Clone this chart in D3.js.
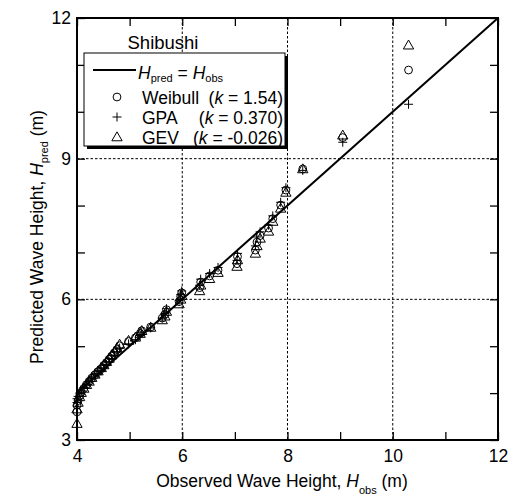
<!DOCTYPE html>
<html>
<head>
<meta charset="utf-8">
<script src="https://cdn.jsdelivr.net/npm/d3@7"></script>
<style>
  html, body { margin: 0; padding: 0; background: #fff; }
  svg { display: block; font-family: "Liberation Sans", Arial, Helvetica, sans-serif; }
</style>
</head>
<body>
<svg id="chart" width="516" height="499"></svg>
<script>
// Observed wave heights (m), sorted ascending; shared by all three fits
const observed = [4.00, 4.00, 4.02, 4.05, 4.08, 4.13, 4.18, 4.23, 4.28, 4.34,
  4.40, 4.46, 4.51, 4.56, 4.61, 4.66, 4.71, 4.76, 4.81, 4.98,
  5.11, 5.20, 5.23, 5.40, 5.62, 5.67, 5.70, 5.94, 5.97, 5.99,
  6.33, 6.35, 6.52, 6.68, 7.04, 7.05, 7.39, 7.42, 7.48, 7.64,
  7.72, 7.87, 7.97, 8.29, 9.05, 10.30];

// Predicted wave heights (m) from each fitted distribution
const predWeibull = [3.60, 3.74, 3.84, 3.94, 4.02, 4.10, 4.18, 4.25, 4.32, 4.39,
  4.46, 4.52, 4.59, 4.65, 4.72, 4.79, 4.86, 4.93, 5.01, 5.10,
  5.18, 5.27, 5.33, 5.41, 5.60, 5.68, 5.78, 5.95, 6.06, 6.14,
  6.25, 6.37, 6.50, 6.62, 6.76, 6.91, 7.05, 7.22, 7.36, 7.52,
  7.72, 8.01, 8.33, 8.78, 9.45, 10.89];
const predGPA = [3.80, 3.88, 3.93, 4.00, 4.06, 4.12, 4.19, 4.24, 4.30, 4.36,
  4.42, 4.48, 4.54, 4.61, 4.67, 4.74, 4.81, 4.88, 4.96, 5.05,
  5.14, 5.23, 5.30, 5.39, 5.60, 5.70, 5.80, 5.98, 6.10, 6.18,
  6.30, 6.43, 6.55, 6.68, 6.83, 6.98, 7.14, 7.33, 7.44, 7.58,
  7.78, 8.07, 8.38, 8.75, 9.35, 10.16];
const predGEV = [3.35, 3.66, 3.80, 3.92, 4.01, 4.10, 4.18, 4.25, 4.33, 4.40,
  4.47, 4.54, 4.60, 4.67, 4.74, 4.81, 4.88, 4.96, 5.04, 5.12,
  5.19, 5.27, 5.33, 5.40, 5.56, 5.64, 5.74, 5.90, 6.00, 6.08,
  6.18, 6.30, 6.44, 6.57, 6.70, 6.84, 6.98, 7.14, 7.30, 7.45,
  7.66, 7.94, 8.28, 8.78, 9.50, 11.42];

// Axis ticks and labels
const xTicks = [4, 5, 6, 7, 8, 9, 10, 11, 12];
const xTickLabels = [4, 6, 8, 10, 12];
const yTicks = [3, 4, 5, 6, 7, 8, 9, 10, 11, 12];
const yTickLabels = [3, 6, 9, 12];
const xGrid = [6, 8, 10];
const yGrid = [6, 9];

// Legend entries
const legendNames = ["Weibull", "GPA", "GEV"];
const legendK = ["1.54", "0.370", "-0.026"];
const siteName = "Shibushi";

const svg = d3.select("#chart");
const m = { left: 77, right: 498, top: 18, bottom: 440 };

const x = d3.scaleLinear().domain([4, 12]).range([m.left, m.right]);
const y = d3.scaleLinear().domain([3, 12]).range([m.bottom, m.top]);

// dotted grid
const grid = svg.append("g").attr("stroke", "#000").attr("stroke-width", 1)
  .attr("stroke-dasharray", "2.5,2");
grid.selectAll("line.gx").data(xGrid).join("line")
  .attr("x1", d => x(d)).attr("x2", d => x(d))
  .attr("y1", m.top).attr("y2", m.bottom);
grid.selectAll("line.gy").data(yGrid).join("line")
  .attr("y1", d => y(d)).attr("y2", d => y(d))
  .attr("x1", m.left).attr("x2", m.right);

// axes with inward ticks on all four sides
const fontSize = 17.5;
function styleAxis(g) {
  g.select(".domain").remove();
  g.selectAll(".tick line").attr("stroke", "#000").attr("stroke-width", 1.3);
  g.selectAll(".tick text").attr("fill", "#000").style("font-size", fontSize + "px")
    .style("font-family", "'Liberation Sans', Arial, sans-serif");
}
svg.append("g").attr("transform", `translate(0,${m.bottom})`)
  .call(d3.axisBottom(x).tickValues(xTicks).tickSize(-8).tickPadding(10)
    .tickFormat(d => xTickLabels.includes(d) ? d : ""))
  .call(styleAxis);
svg.append("g").attr("transform", `translate(0,${m.top})`)
  .call(d3.axisTop(x).tickValues(xTicks).tickSize(-8).tickFormat(""))
  .call(styleAxis);
svg.append("g").attr("transform", `translate(${m.left},0)`)
  .call(d3.axisLeft(y).tickValues(yTicks).tickSize(-8).tickPadding(6)
    .tickFormat(d => yTickLabels.includes(d) ? d : ""))
  .call(styleAxis);
svg.append("g").attr("transform", `translate(${m.right},0)`)
  .call(d3.axisRight(y).tickValues(yTicks).tickSize(-8).tickFormat(""))
  .call(styleAxis);

// 1:1 line
svg.append("line")
  .attr("x1", x(4)).attr("y1", y(4)).attr("x2", x(12)).attr("y2", y(12))
  .attr("stroke", "#000").attr("stroke-width", 2);

// marker shapes
const circleSym = d3.symbol().type(d3.symbolCircle).size(48);
const triSym = d3.symbol().type(d3.symbolTriangle).size(46);
function plus(g) {
  g.append("path").attr("d", "M-4.5,0H4.5M0,-4.5V4.5");
}

const pts = svg.append("g").attr("fill", "none").attr("stroke", "#000").attr("stroke-width", 1);
pts.selectAll("path.w").data(observed).join("path").attr("class", "w")
  .attr("d", circleSym())
  .attr("transform", (d, i) => `translate(${x(d)},${y(predWeibull[i])})`);
pts.selectAll("g.p").data(observed).join("g").attr("class", "p")
  .attr("transform", (d, i) => `translate(${x(d)},${y(predGPA[i])})`)
  .each(function () { plus(d3.select(this)); });
pts.selectAll("path.v").data(observed).join("path").attr("class", "v")
  .attr("d", triSym())
  .attr("transform", (d, i) => `translate(${x(d)},${y(predGEV[i]) + 0.8})`);

// frame
svg.append("rect").attr("x", m.left).attr("y", m.top)
  .attr("width", m.right - m.left).attr("height", m.bottom - m.top)
  .attr("fill", "none").attr("stroke", "#000").attr("stroke-width", 2);

// site name
svg.append("text").attr("x", 163).attr("y", 48.5).attr("text-anchor", "middle")
  .style("font-size", "18.5px").text(siteName);

// legend box with drop shadow
const lg = svg.append("g");
lg.append("rect").attr("x", 87).attr("y", 56).attr("width", 201).attr("height", 93).attr("fill", "#000");
lg.append("rect").attr("x", 84).attr("y", 53).attr("width", 201).attr("height", 93)
  .attr("fill", "#fff").attr("stroke", "#000").attr("stroke-width", 1);

lg.append("line").attr("x1", 93).attr("x2", 136).attr("y1", 70).attr("y2", 70)
  .attr("stroke", "#000").attr("stroke-width", 2);
const eq = lg.append("text").attr("x", 138).attr("y", 79).style("font-size", fontSize + "px");
eq.append("tspan").style("font-style", "italic").text("H");
eq.append("tspan").attr("dy", 3).style("font-size", "11px").text("pred");
eq.append("tspan").attr("dy", -3).text(" = ");
eq.append("tspan").style("font-style", "italic").text("H");
eq.append("tspan").attr("dy", 3).style("font-size", "11px").text("obs");

const rowY = [97, 117, 137];
const markG = lg.append("g").attr("fill", "none").attr("stroke", "#000").attr("stroke-width", 1);
markG.append("path").attr("d", circleSym()).attr("transform", `translate(117,${rowY[0]})`);
plus(markG.append("g").attr("transform", `translate(117,${rowY[1]})`));
markG.append("path").attr("d", triSym()).attr("transform", `translate(117,${rowY[2] + 0.8})`);

legendNames.forEach((name, i) => {
  lg.append("text").attr("x", 142).attr("y", rowY[i] + 6.5).style("font-size", fontSize + "px").text(name);
  const t = lg.append("text").attr("x", 283).attr("y", rowY[i] + 6.5)
    .attr("text-anchor", "end").style("font-size", fontSize + "px");
  t.append("tspan").text("(");
  t.append("tspan").style("font-style", "italic").text("k");
  t.append("tspan").text(" = " + legendK[i] + ")");
});

// axis titles
const xt = svg.append("text").attr("x", 282).attr("y", 487).attr("text-anchor", "middle")
  .style("font-size", fontSize + "px");
xt.append("tspan").text("Observed Wave Height,  ");
xt.append("tspan").style("font-style", "italic").text("H");
xt.append("tspan").attr("dy", 7).style("font-size", "11px").text("obs");
xt.append("tspan").attr("dy", -7).text(" (m)");

const yt = svg.append("text").attr("transform", "translate(43,237) rotate(-90)")
  .attr("text-anchor", "middle").style("font-size", fontSize + "px");
yt.append("tspan").text("Predicted Wave Height,  ");
yt.append("tspan").style("font-style", "italic").text("H");
yt.append("tspan").attr("dy", 5).style("font-size", "11px").text("pred");
yt.append("tspan").attr("dy", -5).text(" (m)");
</script>
</body>
</html>
